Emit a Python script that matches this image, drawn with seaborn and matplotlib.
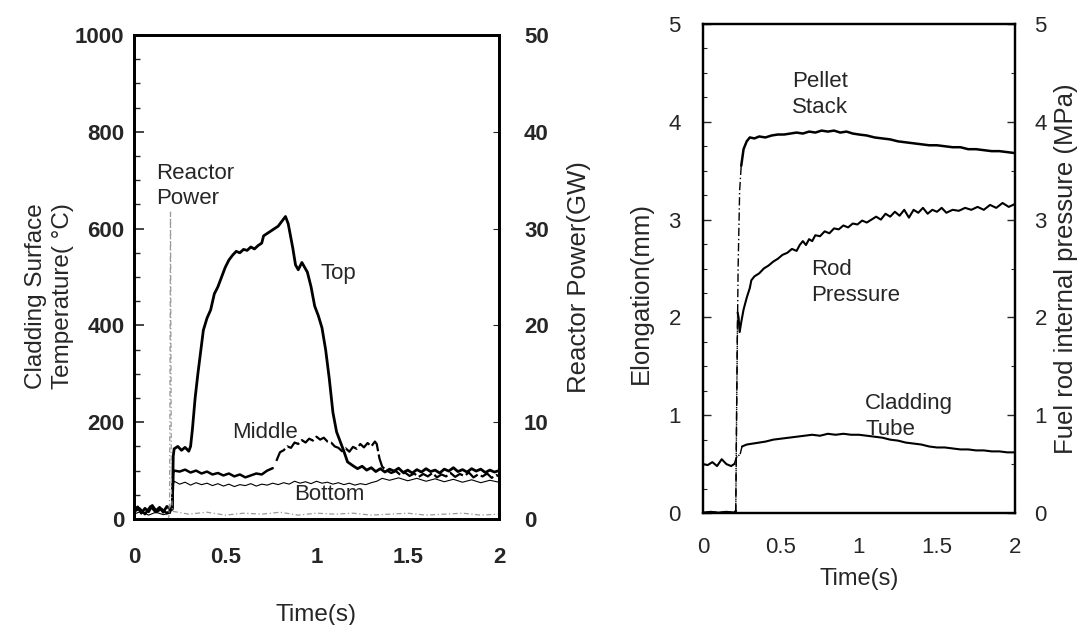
import numpy as np
import matplotlib
matplotlib.use("Agg")
import matplotlib.pyplot as plt
import seaborn as sns
from matplotlib.ticker import MultipleLocator

# ---- left panel: cladding surface temperature (C) and reactor power (GW) ----
t_top = [0.00, 0.02, 0.04, 0.06, 0.08, 0.10, 0.12, 0.14, 0.16, 0.18, 0.20, 0.21,
         0.215, 0.22, 0.24, 0.26, 0.28, 0.30, 0.31, 0.32, 0.335, 0.35, 0.36, 0.38,
         0.40, 0.42, 0.44, 0.46, 0.48, 0.50, 0.52, 0.54, 0.56, 0.58, 0.60, 0.62,
         0.64, 0.66, 0.68, 0.70, 0.71, 0.73, 0.75, 0.77, 0.79, 0.81, 0.83, 0.845,
         0.855, 0.87, 0.885, 0.90, 0.92, 0.935, 0.95, 0.97, 0.99, 1.01, 1.03, 1.05,
         1.07, 1.09, 1.11, 1.13, 1.15, 1.17, 1.20, 1.225, 1.25, 1.275, 1.30, 1.325,
         1.35, 1.375, 1.40, 1.425, 1.45, 1.475, 1.50, 1.525, 1.55, 1.575, 1.60, 1.625,
         1.65, 1.675, 1.70, 1.725, 1.75, 1.775, 1.80, 1.825, 1.85, 1.875, 1.90, 1.925,
         1.95, 1.975, 2.00]
temp_top = [18, 25, 12, 22, 15, 28, 17, 24, 14, 26, 20, 22,
            130, 145, 150, 142, 148, 140, 150, 185, 250, 300, 330, 390,
            415, 432, 465, 480, 500, 520, 535, 545, 553, 550, 557, 555,
            562, 558, 565, 570, 585, 590, 595, 600, 605, 615, 625, 610,
            590, 560, 525, 515, 530, 520, 510, 480, 440, 420, 395, 350,
            290, 220, 180, 160, 140, 118, 110, 104, 109, 101, 106, 98,
            104, 97, 103, 99, 105, 96, 101, 95, 102, 97, 104, 98,
            101, 95, 103, 99, 106, 98, 102, 97, 104, 99, 103, 96,
            101, 97, 100]

t_mid = [0.00, 0.03, 0.06, 0.09, 0.12, 0.15, 0.18, 0.21, 0.215, 0.22, 0.25, 0.28,
         0.31, 0.34, 0.37, 0.40, 0.43, 0.46, 0.49, 0.52, 0.55, 0.58, 0.61, 0.64,
         0.67, 0.70, 0.73, 0.76, 0.78, 0.80, 0.82, 0.84, 0.86, 0.88, 0.90, 0.92,
         0.94, 0.96, 0.98, 1.00, 1.02, 1.04, 1.06, 1.08, 1.10, 1.12, 1.14, 1.16,
         1.18, 1.20, 1.22, 1.24, 1.26, 1.28, 1.30, 1.32, 1.33, 1.345, 1.36, 1.385,
         1.41, 1.435, 1.46, 1.485, 1.51, 1.535, 1.56, 1.585, 1.61, 1.635, 1.66, 1.685,
         1.71, 1.735, 1.76, 1.785, 1.81, 1.835, 1.86, 1.885, 1.91, 1.935, 1.96, 1.985,
         2.00]
temp_mid = [15, 22, 10, 26, 14, 21, 12, 20, 95, 100, 98, 102,
            96, 100, 94, 98, 92, 95, 90, 94, 88, 92, 86, 90,
            94, 92, 100, 105, 120, 138, 142, 150, 147, 158, 155, 163,
            158, 166, 162, 170, 164, 168, 160, 158, 150, 147, 140, 146,
            139, 149, 145, 155, 148, 157, 150, 160, 155, 125, 108, 100,
            95, 99, 91, 96, 89, 94, 87, 93, 88, 95, 86, 92,
            88, 95, 87, 93, 89, 96, 86, 92, 88, 94, 85, 91,
            88]

t_bot = [0.00, 0.04, 0.08, 0.12, 0.16, 0.20, 0.215, 0.22, 0.25, 0.28, 0.31, 0.34,
         0.37, 0.40, 0.43, 0.46, 0.49, 0.52, 0.55, 0.58, 0.61, 0.64, 0.67, 0.70,
         0.73, 0.76, 0.79, 0.82, 0.85, 0.88, 0.91, 0.94, 0.97, 1.00, 1.03, 1.06,
         1.09, 1.12, 1.15, 1.18, 1.21, 1.24, 1.27, 1.30, 1.33, 1.36, 1.40, 1.45,
         1.50, 1.55, 1.60, 1.65, 1.70, 1.75, 1.80, 1.85, 1.90, 1.95, 2.00]
temp_bot = [10, 16, 8, 14, 9, 12, 70, 78, 72, 76, 70, 75,
            71, 74, 69, 73, 68, 72, 67, 71, 69, 73, 68, 72,
            70, 74, 71, 75, 72, 78, 74, 77, 73, 78, 74, 76,
            72, 75, 71, 74, 70, 73, 71, 75, 78, 84, 80, 85,
            79, 84, 78, 83, 77, 82, 76, 81, 75, 80, 76]

t_pow = [0.00, 0.19, 0.195, 0.200, 0.205, 0.21, 0.30, 0.40, 0.50, 0.60, 0.70, 0.80,
         0.90, 1.00, 1.10, 1.20, 1.30, 1.40, 1.50, 1.60, 1.70, 1.80, 1.90, 2.00]
power_gw = [0.0, 0.0, 2.0, 31.7, 3.0, 0.8, 0.5, 0.7, 0.4, 0.6, 0.5, 0.7,
            0.4, 0.6, 0.5, 0.6, 0.4, 0.5, 0.6, 0.4, 0.5, 0.6, 0.4, 0.5]

# ---- right panel: elongation (mm) and rod internal pressure (MPa) ----
t_pellet = [0.00, 0.05, 0.10, 0.15, 0.20, 0.21, 0.215, 0.225, 0.235, 0.245, 0.26,
            0.28, 0.30, 0.33, 0.36, 0.40, 0.44, 0.48, 0.52, 0.56, 0.60, 0.64, 0.68,
            0.72, 0.76, 0.80, 0.84, 0.88, 0.92, 0.96, 1.00, 1.05, 1.10, 1.15, 1.20,
            1.25, 1.30, 1.35, 1.40, 1.45, 1.50, 1.55, 1.60, 1.65, 1.70, 1.75, 1.80,
            1.85, 1.90, 1.95, 2.00]
pellet_mm = [0.00, 0.01, 0.00, 0.01, 0.00, 0.02, 1.00, 2.50, 3.30, 3.55, 3.72,
             3.80, 3.84, 3.83, 3.85, 3.84, 3.86, 3.87, 3.87, 3.88, 3.89, 3.88, 3.90,
             3.89, 3.91, 3.90, 3.91, 3.89, 3.90, 3.88, 3.87, 3.86, 3.84, 3.83, 3.82,
             3.80, 3.79, 3.78, 3.77, 3.76, 3.76, 3.75, 3.74, 3.74, 3.72, 3.72, 3.71,
             3.70, 3.70, 3.69, 3.68]

t_rod = [0.00, 0.05, 0.10, 0.15, 0.21, 0.215, 0.22, 0.222, 0.228, 0.235, 0.245,
         0.26, 0.28, 0.30, 0.31, 0.33, 0.36, 0.39, 0.42, 0.45, 0.48, 0.51, 0.54,
         0.57, 0.60, 0.62, 0.64, 0.66, 0.68, 0.70, 0.72, 0.75, 0.78, 0.81, 0.84,
         0.87, 0.90, 0.93, 0.96, 0.99, 1.02, 1.05, 1.08, 1.11, 1.14, 1.17, 1.20,
         1.23, 1.26, 1.29, 1.32, 1.35, 1.38, 1.41, 1.44, 1.47, 1.50, 1.53, 1.56,
         1.60, 1.64, 1.68, 1.72, 1.76, 1.80, 1.84, 1.88, 1.92, 1.96, 2.00]
rod_mpa = [0.00, 0.01, 0.00, 0.01, 0.00, 0.90, 1.80, 2.05, 2.00, 1.85, 1.95,
           2.08, 2.20, 2.30, 2.38, 2.42, 2.45, 2.50, 2.53, 2.57, 2.60, 2.64, 2.66,
           2.70, 2.68, 2.74, 2.78, 2.74, 2.80, 2.78, 2.84, 2.83, 2.88, 2.86, 2.91,
           2.90, 2.94, 2.92, 2.96, 2.95, 2.99, 2.97, 3.00, 3.03, 3.00, 3.06, 3.03,
           3.08, 3.04, 3.10, 3.02, 3.10, 3.07, 3.12, 3.06, 3.10, 3.08, 3.12, 3.07,
           3.10, 3.09, 3.12, 3.10, 3.13, 3.10, 3.15, 3.12, 3.17, 3.13, 3.16]

t_clad = [0.00, 0.03, 0.06, 0.09, 0.12, 0.15, 0.18, 0.20, 0.21, 0.225, 0.235,
          0.25, 0.28, 0.32, 0.36, 0.40, 0.45, 0.50, 0.55, 0.60, 0.65, 0.70, 0.75,
          0.80, 0.85, 0.90, 0.95, 1.00, 1.05, 1.10, 1.15, 1.20, 1.25, 1.30, 1.35,
          1.40, 1.45, 1.50, 1.55, 1.60, 1.65, 1.70, 1.75, 1.80, 1.85, 1.90, 1.95, 2.00]
clad_mm = [0.50, 0.49, 0.52, 0.48, 0.55, 0.50, 0.48, 0.50, 0.55, 0.60, 0.58,
           0.68, 0.70, 0.71, 0.72, 0.73, 0.75, 0.76, 0.77, 0.78, 0.79, 0.80, 0.79,
           0.81, 0.80, 0.81, 0.80, 0.80, 0.79, 0.78, 0.77, 0.75, 0.74, 0.72, 0.71,
           0.70, 0.68, 0.67, 0.67, 0.66, 0.65, 0.65, 0.64, 0.64, 0.63, 0.63, 0.62, 0.62]

time_ticks = [0, 0.5, 1, 1.5, 2]
time_labels = ["0", "0.5", "1", "1.5", "2"]

sns.set_theme(style="ticks")
plt.rcParams['font.family'] = ['Liberation Sans', 'DejaVu Sans']
FS = 16      # tick labels and in-plot notes
FL = 18.5    # axis titles


def line(ax, t, y, **kw):
    sns.lineplot(x=np.asarray(t), y=np.asarray(y), ax=ax, sort=False,
                 estimator=None, legend=False, **kw)


def line_split(ax, t, y, t0, t1, lw):
    # solid before and after the fast transient, thin dash-dot through it
    t = np.asarray(t)
    y = np.asarray(y)
    pre = t <= t0
    mid = (t >= t0) & (t <= t1)
    post = t >= t1
    line(ax, t[pre], y[pre], color="black", linewidth=lw)
    line(ax, t[mid], y[mid], color="black", linewidth=1.0, linestyle=(0, (6, 2, 1, 2)))
    line(ax, t[post], y[post], color="black", linewidth=lw)


fig = plt.figure(figsize=(10.82, 6.25), dpi=100)
W, H = 1082, 625

# left panel
ax1 = fig.add_axes([134 / W, 1 - 519 / H, 365 / W, 484 / H])
ax1r = ax1.twinx()

line(ax1, t_top, temp_top, color="black", linewidth=2.0)
tm = np.asarray(t_mid)
ym = np.asarray(temp_mid)
line(ax1, tm[tm <= 0.76], ym[tm <= 0.76], color="black", linewidth=1.8)
line(ax1, tm[tm >= 0.78], ym[tm >= 0.78], color="black", linewidth=1.6,
     linestyle=(0, (7, 1.5)))
line(ax1, t_bot, temp_bot, color="black", linewidth=0.8)
line(ax1r, t_pow, power_gw, color="#9a9a9a", linewidth=0.9, linestyle=(0, (4, 2, 1, 2)))

ax1.set_xlim(0, 2)
ax1.set_ylim(0, 1000)
ax1r.set_ylim(0, 50)
ax1.set_xticks(time_ticks)
ax1.set_xticklabels(time_labels)
ax1.set_yticks(range(0, 1001, 200))
ax1.yaxis.set_minor_locator(MultipleLocator(50))
ax1r.set_yticks(range(0, 51, 10))
ax1.tick_params(axis="x", length=0, pad=20, labelsize=FS)
ax1.tick_params(axis="y", which="major", direction="in", length=7, width=1.2, pad=7, labelsize=FS)
ax1.tick_params(axis="y", which="minor", direction="in", length=4, width=1.0)
ax1r.tick_params(axis="y", direction="in", length=4, width=0.8, pad=18, labelsize=FS)
for lab in ax1.get_xticklabels() + ax1.get_yticklabels() + ax1r.get_yticklabels():
    lab.set_fontweight("bold")

ax1.set_xlabel("Time(s)", fontsize=17.5)
ax1.xaxis.set_label_coords(0.5, -0.175)
ax1.set_ylabel("Cladding Surface\nTemperature( °C)", fontsize=17.5, linespacing=1.3)
ax1.yaxis.set_label_coords(-0.165, 0.46)
ax1r.set_ylabel("Reactor Power(GW)", fontsize=FL)
ax1r.yaxis.set_label_coords(1.185, 0.5)

for sp in list(ax1.spines.values()) + list(ax1r.spines.values()):
    sp.set_color("black")
    sp.set_linewidth(2.0)

ax1.text(0.12, 688, "Reactor\nPower", fontsize=FS, ha="left", va="center", linespacing=1.3)
ax1.text(1.02, 508, "Top", fontsize=FS, ha="left", va="center")
ax1.text(0.54, 178, "Middle", fontsize=FS, ha="left", va="center")
ax1.text(0.88, 50, "Bottom", fontsize=FS, ha="left", va="center")

# right panel
ax2 = fig.add_axes([703 / W, 1 - 513 / H, 312 / W, 489 / H])
ax2r = ax2.twinx()

line_split(ax2, t_pellet, pellet_mm, 0.21, 0.245, 1.8)
line_split(ax2r, t_rod, rod_mpa, 0.21, 0.222, 1.5)
line_split(ax2, t_clad, clad_mm, 0.20, 0.25, 1.5)

ax2.set_xlim(0, 2)
ax2.set_ylim(0, 5)
ax2r.set_ylim(0, 5)
ax2.set_xticks(time_ticks)
ax2.set_xticklabels(time_labels)
ax2.set_yticks(range(0, 6))
ax2.yaxis.set_minor_locator(MultipleLocator(0.25))
ax2r.set_yticks(range(0, 6))
ax2r.yaxis.set_minor_locator(MultipleLocator(0.5))
ax2.tick_params(axis="x", length=0, pad=17, labelsize=FS)
ax2.tick_params(axis="y", which="major", direction="in", length=6, width=1.0, pad=16, labelsize=FS)
ax2.tick_params(axis="y", which="minor", direction="in", length=3, width=0.8)
ax2r.tick_params(axis="y", which="major", direction="in", length=6, width=1.0, pad=14, labelsize=FS)
ax2r.tick_params(axis="y", which="minor", direction="in", length=3, width=0.8)

ax2.set_xlabel("Time(s)", fontsize=17)
ax2.xaxis.set_label_coords(0.5, -0.112)
ax2.set_ylabel("Elongation(mm)", fontsize=FL)
ax2.yaxis.set_label_coords(-0.16, 0.45)
ax2r.set_ylabel("Fuel rod internal pressure (MPa)", fontsize=FL)
ax2r.yaxis.set_label_coords(1.125, 0.5)

for sp in list(ax2.spines.values()) + list(ax2r.spines.values()):
    sp.set_color("black")
    sp.set_linewidth(1.6)

ax2.text(0.57, 4.28, "Pellet\nStack", fontsize=FS, ha="left", va="center", linespacing=1.3)
ax2.text(0.69, 2.36, "Rod\nPressure", fontsize=FS, ha="left", va="center", linespacing=1.3)
ax2.text(1.04, 0.99, "Cladding\nTube", fontsize=FS, ha="left", va="center", linespacing=1.3)

fig.savefig("out.png", dpi=100)
